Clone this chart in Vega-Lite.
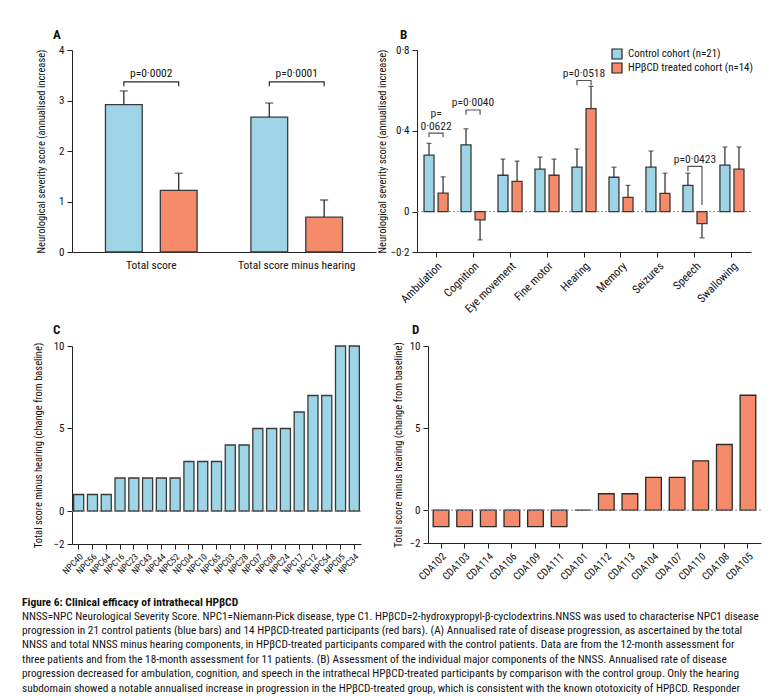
{
  "$schema": "https://vega.github.io/schema/vega-lite/v6.json",
  "padding": {"left": 22, "top": 29, "right": 5, "bottom": 0},
  "background": "white",
  "config": {
    "font": "Liberation Sans Narrow, Roboto Condensed, DejaVu Sans Condensed, Liberation Sans, sans-serif",
    "view": {"stroke": null},
    "axis": {"domainColor": "#222", "tickColor": "#222", "labelColor": "#111", "titleColor": "#111", "labelFontSize": 11, "titleFontSize": 10.5, "titleFontWeight": "normal", "grid": false, "tickSize": 5, "labelPadding": 3, "titlePadding": 6},
    "title": {"fontSize": 13, "fontWeight": "bold", "anchor": "start", "color": "#111", "frame": "group"}
  },
  "title": {
    "text": "Figure 6: Clinical efficacy of intrathecal HPβCD",
    "subtitle": [
      "NNSS=NPC Neurological Severity Score. NPC1=Niemann-Pick disease, type C1. HPβCD=2-hydroxypropyl-β-cyclodextrins.NNSS was used to characterise NPC1 disease",
      "progression in 21 control patients (blue bars) and 14 HPβCD-treated participants (red bars). (A) Annualised rate of disease progression, as ascertained by the total",
      "NNSS and total NNSS minus hearing components, in HPβCD-treated participants compared with the control patients. Data are from the 12-month assessment for",
      "three patients and from the 18-month assessment for 11 patients. (B) Assessment of the individual major components of the NNSS. Annualised rate of disease",
      "progression decreased for ambulation, cognition, and speech in the intrathecal HPβCD-treated participants by comparison with the control group. Only the hearing",
      "subdomain showed a notable annualised increase in progression in the HPβCD-treated group, which is consistent with the known ototoxicity of HPβCD. Responder"
    ],
    "orient": "bottom",
    "anchor": "start",
    "frame": "bounds",
    "offset": 15,
    "dx": -11,
    "fontSize": 11.5,
    "fontWeight": "bold",
    "subtitleFontSize": 11.25,
    "subtitleLineHeight": 14.4,
    "subtitleColor": "#111",
    "subtitlePadding": 2
  },
  "vconcat": [
    {
      "hconcat": [
        {
          "width": 304,
          "height": 202,
          "title": {"text": "A", "dx": -19, "offset": 2},
          "data": {"values": [
            {"cat": "Total score", "group": "Control cohort (n=21)", "v": 2.92, "err": 3.19},
            {"cat": "Total score", "group": "HPβCD treated cohort (n=14)", "v": 1.22, "err": 1.56},
            {"cat": "Total score minus hearing", "group": "Control cohort (n=21)", "v": 2.67, "err": 2.95},
            {"cat": "Total score minus hearing", "group": "HPβCD treated cohort (n=14)", "v": 0.69, "err": 1.03}
          ]},
          "encoding": {
            "x": {"field": "cat", "type": "nominal", "scale": {"domain": ["Total score", "Total score minus hearing"], "paddingInner": 0.37, "paddingOuter": 0.23}, "axis": {"title": null, "labelAngle": 0, "ticks": false, "labelPadding": 7, "labelFontSize": 11.5}},
            "xOffset": {"field": "group", "type": "nominal", "scale": {"domain": ["Control cohort (n=21)", "HPβCD treated cohort (n=14)"], "paddingInner": 0.33, "paddingOuter": 0}}
          },
          "layer": [
            {
              "mark": {"type": "bar", "stroke": "#3a3a3a", "strokeWidth": 1.3},
              "encoding": {
                "y": {"field": "v", "type": "quantitative", "stack": null, "scale": {"domain": [0, 4], "nice": false}, "axis": {"values": [0, 1, 2, 3, 4], "format": "d", "titlePadding": 12, "title": "Neurological severity score (annualised increase)"}},
                "color": {"field": "group", "type": "nominal", "scale": {"domain": ["Control cohort (n=21)", "HPβCD treated cohort (n=14)"], "range": ["#9dd5e6", "#f58b6b"]}, "legend": null}
              }
            },
            {
              "mark": {"type": "rule", "color": "#2a2a2a", "strokeWidth": 1.3},
              "encoding": {"y": {"field": "v", "type": "quantitative"}, "y2": {"field": "err"}}
            },
            {
              "mark": {"type": "tick", "color": "#2a2a2a", "thickness": 1.3, "size": 8},
              "encoding": {"y": {"field": "err", "type": "quantitative"}}
            },
            {
              "data": {"values": [
                {"cat": "Total score", "group": "Control cohort (n=21)", "y": 3.28, "o": 1, "id": "a1"},
                {"cat": "Total score", "group": "Control cohort (n=21)", "y": 3.37, "o": 2, "id": "a1"},
                {"cat": "Total score", "group": "HPβCD treated cohort (n=14)", "y": 3.37, "o": 3, "id": "a1"},
                {"cat": "Total score", "group": "HPβCD treated cohort (n=14)", "y": 3.28, "o": 4, "id": "a1"},
                {"cat": "Total score minus hearing", "group": "Control cohort (n=21)", "y": 3.28, "o": 1, "id": "a2"},
                {"cat": "Total score minus hearing", "group": "Control cohort (n=21)", "y": 3.37, "o": 2, "id": "a2"},
                {"cat": "Total score minus hearing", "group": "HPβCD treated cohort (n=14)", "y": 3.37, "o": 3, "id": "a2"},
                {"cat": "Total score minus hearing", "group": "HPβCD treated cohort (n=14)", "y": 3.28, "o": 4, "id": "a2"}
              ]},
              "mark": {"type": "line", "color": "#2a2a2a", "strokeWidth": 1.2},
              "encoding": {"y": {"field": "y", "type": "quantitative"}, "order": {"field": "o"}, "detail": {"field": "id"}}
            },
            {
              "data": {"values": [
                {"cat": "Total score", "y": 3.53, "t": "p=0·0002"},
                {"cat": "Total score minus hearing", "y": 3.53, "t": "p=0·0001"}
              ]},
              "mark": {"type": "text", "fontSize": 11.5, "color": "#111"},
              "encoding": {"xOffset": null, "y": {"field": "y", "type": "quantitative"}, "text": {"field": "t"}}
            }
          ]
        },
        {
          "width": 334,
          "height": 202,
          "title": {"text": "B", "dx": -17, "offset": 2},
          "data": {"values": [
            {"cat": "Ambulation", "group": "Control cohort (n=21)", "v": 0.28, "err": 0.338},
            {"cat": "Ambulation", "group": "HPβCD treated cohort (n=14)", "v": 0.091, "err": 0.172},
            {"cat": "Cognition", "group": "Control cohort (n=21)", "v": 0.33, "err": 0.41},
            {"cat": "Cognition", "group": "HPβCD treated cohort (n=14)", "v": -0.041, "err": -0.14},
            {"cat": "Eye movement", "group": "Control cohort (n=21)", "v": 0.18, "err": 0.26},
            {"cat": "Eye movement", "group": "HPβCD treated cohort (n=14)", "v": 0.15, "err": 0.25},
            {"cat": "Fine motor", "group": "Control cohort (n=21)", "v": 0.21, "err": 0.27},
            {"cat": "Fine motor", "group": "HPβCD treated cohort (n=14)", "v": 0.18, "err": 0.26},
            {"cat": "Hearing", "group": "Control cohort (n=21)", "v": 0.22, "err": 0.31},
            {"cat": "Hearing", "group": "HPβCD treated cohort (n=14)", "v": 0.51, "err": 0.62},
            {"cat": "Memory", "group": "Control cohort (n=21)", "v": 0.17, "err": 0.22},
            {"cat": "Memory", "group": "HPβCD treated cohort (n=14)", "v": 0.07, "err": 0.13},
            {"cat": "Seizures", "group": "Control cohort (n=21)", "v": 0.22, "err": 0.30},
            {"cat": "Seizures", "group": "HPβCD treated cohort (n=14)", "v": 0.09, "err": 0.19},
            {"cat": "Speech", "group": "Control cohort (n=21)", "v": 0.13, "err": 0.19},
            {"cat": "Speech", "group": "HPβCD treated cohort (n=14)", "v": -0.06, "err": -0.13},
            {"cat": "Swallowing", "group": "Control cohort (n=21)", "v": 0.23, "err": 0.32},
            {"cat": "Swallowing", "group": "HPβCD treated cohort (n=14)", "v": 0.21, "err": 0.32}
          ]},
          "encoding": {
            "x": {"field": "cat", "type": "nominal", "scale": {"domain": ["Ambulation", "Cognition", "Eye movement", "Fine motor", "Hearing", "Memory", "Seizures", "Speech", "Swallowing"], "paddingInner": 0.35, "paddingOuter": 0.19}, "axis": {"title": null, "labelAngle": -45, "labelFontSize": 11.5}},
            "xOffset": {"field": "group", "type": "nominal", "scale": {"domain": ["Control cohort (n=21)", "HPβCD treated cohort (n=14)"], "paddingInner": 0.29, "paddingOuter": 0}}
          },
          "layer": [
            {
              "data": {"values": [{"z": 0}]},
              "mark": {"type": "rule", "color": "#888", "strokeDash": [2, 2], "strokeWidth": 1},
              "encoding": {"xOffset": null, "x": null, "y": {"field": "z", "type": "quantitative"}}
            },
            {
              "mark": {"type": "bar", "stroke": "#3a3a3a", "strokeWidth": 1.3},
              "encoding": {
                "y": {"field": "v", "type": "quantitative", "stack": null, "scale": {"domain": [-0.2, 0.8], "nice": false}, "axis": {"values": [-0.2, 0, 0.4, 0.8], "labelExpr": "replace(format(datum.value, '.1~f'), '.', '·')", "titlePadding": 2, "title": "Neurological severity score (annualised increase)"}},
                "color": {"field": "group", "type": "nominal", "scale": {"domain": ["Control cohort (n=21)", "HPβCD treated cohort (n=14)"], "range": ["#9dd5e6", "#f58b6b"]}, "legend": {"title": null, "orient": "top-right", "offset": -2, "padding": 0, "symbolType": "square", "symbolSize": 100, "symbolStrokeColor": "#222", "symbolStrokeWidth": 1.2, "labelFontSize": 10.9, "labelColor": "#111", "rowPadding": -2, "labelOffset": 5}}
              }
            },
            {
              "mark": {"type": "rule", "color": "#2a2a2a", "strokeWidth": 1.2},
              "encoding": {"y": {"field": "v", "type": "quantitative"}, "y2": {"field": "err"}}
            },
            {
              "mark": {"type": "tick", "color": "#2a2a2a", "thickness": 1.2, "size": 5},
              "encoding": {"y": {"field": "err", "type": "quantitative"}}
            },
            {
              "data": {"values": [
                {"cat": "Ambulation", "group": "Control cohort (n=21)", "y": 0.368, "o": 1, "id": "b1"},
                {"cat": "Ambulation", "group": "Control cohort (n=21)", "y": 0.388, "o": 2, "id": "b1"},
                {"cat": "Ambulation", "group": "HPβCD treated cohort (n=14)", "y": 0.388, "o": 3, "id": "b1"},
                {"cat": "Ambulation", "group": "HPβCD treated cohort (n=14)", "y": 0.368, "o": 4, "id": "b1"},
                {"cat": "Cognition", "group": "Control cohort (n=21)", "y": 0.48, "o": 1, "id": "b2"},
                {"cat": "Cognition", "group": "Control cohort (n=21)", "y": 0.503, "o": 2, "id": "b2"},
                {"cat": "Cognition", "group": "HPβCD treated cohort (n=14)", "y": 0.503, "o": 3, "id": "b2"},
                {"cat": "Cognition", "group": "HPβCD treated cohort (n=14)", "y": 0.48, "o": 4, "id": "b2"},
                {"cat": "Hearing", "group": "Control cohort (n=21)", "y": 0.625, "o": 1, "id": "b3"},
                {"cat": "Hearing", "group": "Control cohort (n=21)", "y": 0.649, "o": 2, "id": "b3"},
                {"cat": "Hearing", "group": "HPβCD treated cohort (n=14)", "y": 0.649, "o": 3, "id": "b3"},
                {"cat": "Hearing", "group": "HPβCD treated cohort (n=14)", "y": 0.625, "o": 4, "id": "b3"},
                {"cat": "Speech", "group": "Control cohort (n=21)", "y": 0.2, "o": 1, "id": "b4"},
                {"cat": "Speech", "group": "Control cohort (n=21)", "y": 0.224, "o": 2, "id": "b4"},
                {"cat": "Speech", "group": "HPβCD treated cohort (n=14)", "y": 0.224, "o": 3, "id": "b4"},
                {"cat": "Speech", "group": "HPβCD treated cohort (n=14)", "y": 0.033, "o": 4, "id": "b4"}
              ]},
              "mark": {"type": "line", "color": "#555", "strokeWidth": 1.2},
              "encoding": {"y": {"field": "y", "type": "quantitative"}, "order": {"field": "o"}, "detail": {"field": "id"}}
            },
            {
              "data": {"values": [
                {"cat": "Ambulation", "y": 0.483, "t": "p="},
                {"cat": "Ambulation", "y": 0.418, "t": "0·0622"},
                {"cat": "Cognition", "y": 0.536, "t": "p=0·0040"},
                {"cat": "Hearing", "y": 0.681, "t": "p=0·0518"},
                {"cat": "Speech", "y": 0.256, "t": "p=0·0423"}
              ]},
              "mark": {"type": "text", "fontSize": 11.5, "color": "#222"},
              "encoding": {"xOffset": null, "y": {"field": "y", "type": "quantitative"}, "text": {"field": "t"}}
            }
          ]
        }
      ],
      "spacing": 1,
      "resolve": {"scale": {"color": "independent", "xOffset": "independent"}, "legend": {"color": "independent"}}
    },
    {
      "hconcat": [
        {
          "width": 289,
          "height": 198,
          "title": {"text": "C", "dx": -19, "offset": 3},
          "data": {"values": [
            {"id": "NPC40", "v": 1}, {"id": "NPC56", "v": 1}, {"id": "NPC64", "v": 1},
            {"id": "NPC16", "v": 2}, {"id": "NPC23", "v": 2}, {"id": "NPC43", "v": 2}, {"id": "NPC44", "v": 2}, {"id": "NPC52", "v": 2},
            {"id": "NPC04", "v": 3}, {"id": "NPC10", "v": 3}, {"id": "NPC65", "v": 3},
            {"id": "NPC03", "v": 4}, {"id": "NPC28", "v": 4},
            {"id": "NPC07", "v": 5}, {"id": "NPC08", "v": 5}, {"id": "NPC24", "v": 5},
            {"id": "NPC17", "v": 6}, {"id": "NPC12", "v": 7}, {"id": "NPC54", "v": 7},
            {"id": "NPC05", "v": 10}, {"id": "NPC34", "v": 10}
          ]},
          "layer": [
            {
              "mark": {"type": "bar", "fill": "#9dd5e6", "stroke": "#3a3a3a", "strokeWidth": 1.3},
              "encoding": {
                "x": {"field": "id", "type": "nominal", "sort": null, "scale": {"paddingInner": 0.27, "paddingOuter": 0.12}, "axis": {"title": null, "labelAngle": -45, "labelFontSize": 9}},
                "y": {"field": "v", "type": "quantitative", "scale": {"domain": [-2, 10], "nice": false}, "axis": {"values": [-2, 0, 5, 10], "titlePadding": 10, "title": "Total score minus hearing (change from baseline)"}}
              }
            },
            {
              "data": {"values": [{"z": 0}]},
              "mark": {"type": "rule", "color": "#888", "strokeDash": [2, 2], "strokeWidth": 1},
              "encoding": {"y": {"field": "z", "type": "quantitative"}}
            }
          ]
        },
        {
          "width": 333,
          "height": 197,
          "title": {"text": "D", "dx": -16, "offset": 3},
          "data": {"values": [
            {"id": "CDA102", "v": -1}, {"id": "CDA103", "v": -1}, {"id": "CDA114", "v": -1}, {"id": "CDA106", "v": -1}, {"id": "CDA109", "v": -1}, {"id": "CDA111", "v": -1},
            {"id": "CDA101", "v": 0}, {"id": "CDA112", "v": 1}, {"id": "CDA113", "v": 1}, {"id": "CDA104", "v": 2}, {"id": "CDA107", "v": 2},
            {"id": "CDA110", "v": 3}, {"id": "CDA108", "v": 4}, {"id": "CDA105", "v": 7}
          ]},
          "layer": [
            {
              "mark": {"type": "bar", "fill": "#f58b6b", "stroke": "#2a2a2a", "strokeWidth": 1.3},
              "encoding": {
                "x": {"field": "id", "type": "nominal", "sort": null, "scale": {"paddingInner": 0.335, "paddingOuter": 0.22}, "axis": {"title": null, "labelAngle": -45, "labelFontSize": 10.5}},
                "y": {"field": "v", "type": "quantitative", "scale": {"domain": [-2, 10], "nice": false}, "axis": {"values": [-2, 0, 5, 10], "titlePadding": 6, "title": "Total score minus hearing (change from baseline)"}}
              }
            },
            {
              "data": {"values": [{"z": 0}]},
              "mark": {"type": "rule", "color": "#888", "strokeDash": [2, 2], "strokeWidth": 1},
              "encoding": {"y": {"field": "z", "type": "quantitative"}}
            }
          ]
        }
      ],
      "spacing": 31
    }
  ],
  "spacing": 9
}
